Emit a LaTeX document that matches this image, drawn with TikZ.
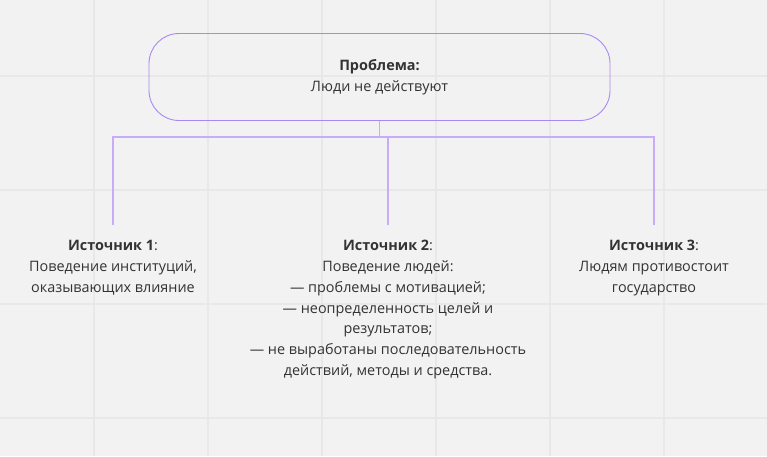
\documentclass[tikz,border=0pt]{standalone}
\usepackage{fontspec}
\setmainfont{Open Sans}
\usetikzlibrary{positioning}
\definecolor{bgGrey}{RGB}{242,242,242}
\definecolor{gridGrey}{RGB}{232,232,232}
\definecolor{probViolet}{RGB}{170,135,245}
\definecolor{linkViolet}{RGB}{200,172,248}
\definecolor{txtDark}{RGB}{51,51,51}

\begin{document}
\begin{tikzpicture}[x=1pt,y=-1pt,
    problem/.style={rounded corners=30pt,draw=probViolet,line width=0.9pt,
      minimum width=461pt,minimum height=87pt,align=center,text=txtDark,
      font=\fontsize{14.4}{21}\selectfont},
    source/.style={align=center,text=txtDark,inner xsep=0pt,inner ysep=15pt,anchor=north,
      font=\fontsize{14.4}{20.8}\selectfont},
    link/.style={draw=linkViolet,line width=1.2pt}
  ]
  \fill[bgGrey] (0,0) rectangle (767,456);
  \useasboundingbox (0,0) rectangle (767,456);
  \foreach \gx in {94,208,...,664} \draw[gridGrey,line width=1.3pt] (\gx,0) -- (\gx,456);
  \foreach \gy in {76,190,...,418} \draw[gridGrey,line width=1.3pt] (0,\gy) -- (767,\gy);

  \node[problem] (prob) at (379.5,77) {\textbf{Проблема:}\\Люди не действуют};
  \node[source] (src1) at (113,225) {\textbf{Источник 1}:\\Поведение институций,\\оказывающих влияние};
  \node[source] (src2) at (388,225) {\textbf{Источник 2}:\\Поведение людей:\\— проблемы с мотивацией;\\— неопределенность целей и\\результатов;\\— не выработаны последовательность\\действий, методы и средства.};
  \node[source] (src3) at (654,225) {\textbf{Источник 3}:\\Людям противостоит\\государство};

  \foreach \s in {src1,src2,src3}
    \draw[link] (prob.south) -- ++(0,16) -| (\s.north);
\end{tikzpicture}
\end{document}
